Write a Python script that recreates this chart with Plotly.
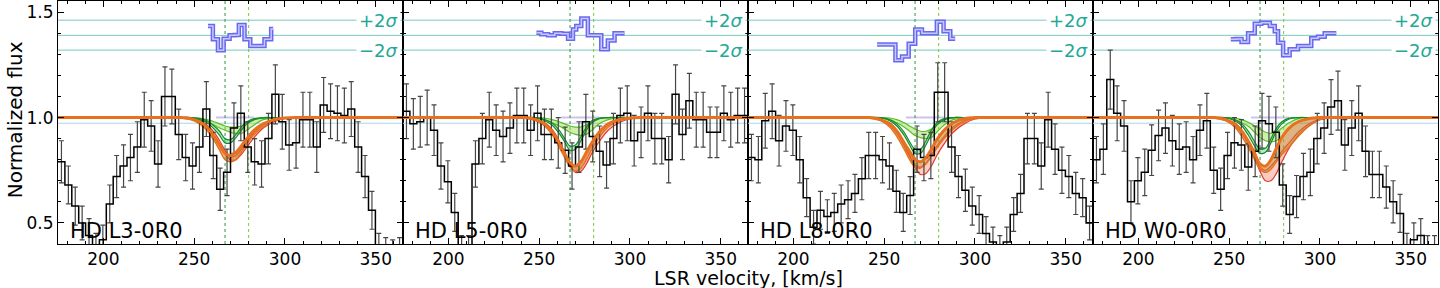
import plotly.graph_objects as go
from plotly.subplots import make_subplots

# ---------------- data ----------------
PANEL_LABELS = ["HD L3-0R0", "HD L5-0R0", "HD L8-0R0", "HD W0-0R0"]

VEL_EDGES = [175.0, 178.8, 182.6, 186.4, 190.2, 194.0, 197.8, 201.6, 205.4, 209.2,
             213.0, 216.8, 220.6, 224.4, 228.2, 232.0, 235.8, 239.6, 243.4, 247.2,
             251.0, 254.8, 258.6, 262.4, 266.2, 270.0, 273.8, 277.6, 281.4, 285.2,
             289.0, 292.8, 296.6, 300.4, 304.2, 308.0, 311.8, 315.6, 319.4, 323.2,
             327.0, 330.8, 334.6, 338.4, 342.2, 346.0, 349.8, 353.6, 357.4, 361.2, 365.0]

FLUX_L3 = [0.79, 0.68, 0.58, 0.50, 0.44, 0.38, 0.42, 0.59, 0.72, 0.77, 0.81, 0.86, 0.99, 0.96, 0.78,
           1.10, 1.10, 0.92, 0.81, 0.77, 0.86, 1.04, 0.82, 0.66, 0.74, 0.95, 1.02, 0.86, 0.79, 0.78,
           0.90, 1.11, 0.98, 0.87, 0.88, 0.99, 0.99, 0.86, 1.06, 1.03, 1.02, 1.01, 1.04, 0.86, 0.72,
           0.56, 0.38, 0.36, 0.35, 0.36]
ERR_L3 = [0.10, 0.09, 0.09, 0.08, 0.08, 0.07, 0.07, 0.09, 0.10, 0.10, 0.11, 0.12, 0.13, 0.12, 0.11,
          0.14, 0.13, 0.12, 0.11, 0.11, 0.12, 0.13, 0.11, 0.10, 0.11, 0.12, 0.13, 0.12, 0.11, 0.11,
          0.12, 0.14, 0.13, 0.12, 0.12, 0.13, 0.13, 0.12, 0.13, 0.13, 0.13, 0.13, 0.13, 0.12, 0.10,
          0.09, 0.07, 0.07, 0.07, 0.07]

FLUX_L5 = [1.03, 0.97, 0.98, 1.00, 0.94, 0.77, 0.695, 0.55, 0.37, 0.37, 0.78, 0.90, 0.99, 0.94, 0.91,
           0.95, 1.01, 1.01, 0.94, 1.02, 0.92, 0.92, 0.88, 0.845, 0.77, 0.86, 0.98, 0.91, 0.84, 0.775,
           0.90, 1.01, 1.02, 0.89, 0.93, 1.02, 0.90, 0.90, 0.80, 1.11, 0.92, 1.08, 0.99, 0.99, 0.93,
           0.93, 1.02, 0.99, 1.01, 1.01]
ERR_L5 = [0.13, 0.12, 0.12, 0.13, 0.12, 0.11, 0.10, 0.09, 0.07, 0.07, 0.11, 0.12, 0.13, 0.12, 0.12,
          0.12, 0.13, 0.13, 0.12, 0.13, 0.12, 0.12, 0.12, 0.11, 0.11, 0.12, 0.13, 0.12, 0.12, 0.11,
          0.12, 0.13, 0.13, 0.12, 0.12, 0.13, 0.12, 0.12, 0.11, 0.14, 0.12, 0.13, 0.13, 0.13, 0.12,
          0.12, 0.13, 0.13, 0.13, 0.13]

FLUX_L8 = [0.81, 0.80, 0.985, 1.03, 0.89, 0.96, 0.94, 0.80, 0.62, 0.48, 0.56, 0.53, 0.55, 0.59, 0.61,
           0.64, 0.71, 0.82, 0.82, 0.80, 0.77, 0.65, 0.55, 0.63, 0.85, 0.81, 0.82, 1.12, 1.12, 0.86,
           0.72, 0.655, 0.58, 0.54, 0.45, 0.41, 0.37, 0.41, 0.54, 0.64, 0.90, 0.90, 0.77, 0.99, 0.85,
           0.75, 0.72, 0.64, 0.62, 0.50]
ERR_L8 = [0.11, 0.11, 0.13, 0.13, 0.12, 0.12, 0.12, 0.11, 0.09, 0.08, 0.09, 0.08, 0.09, 0.09, 0.09,
          0.09, 0.10, 0.11, 0.11, 0.11, 0.11, 0.10, 0.09, 0.09, 0.11, 0.11, 0.11, 0.14, 0.14, 0.12,
          0.10, 0.10, 0.09, 0.09, 0.08, 0.07, 0.07, 0.07, 0.08, 0.09, 0.12, 0.12, 0.11, 0.13, 0.12,
          0.11, 0.10, 0.10, 0.09, 0.08]

FLUX_W0 = [0.80, 0.85, 1.18, 1.02, 0.96, 0.60, 0.70, 0.74, 0.845, 0.915, 0.95, 0.89, 0.85, 0.86, 0.80,
           0.94, 0.985, 0.75, 0.66, 0.82, 0.88, 0.87, 0.765, 0.84, 0.985, 0.97, 0.93, 0.68, 0.54, 0.625,
           0.72, 0.74, 0.90, 0.95, 1.05, 1.08, 0.87, 0.95, 1.02, 0.84, 0.73, 0.73, 0.67, 0.60, 0.545,
           0.38, 0.42, 0.44, 0.37, 0.37]
ERR_W0 = [0.11, 0.12, 0.14, 0.13, 0.12, 0.10, 0.11, 0.11, 0.12, 0.12, 0.12, 0.12, 0.12, 0.12, 0.11,
          0.12, 0.13, 0.11, 0.10, 0.11, 0.12, 0.12, 0.11, 0.12, 0.13, 0.13, 0.12, 0.10, 0.09, 0.10,
          0.11, 0.11, 0.12, 0.12, 0.13, 0.14, 0.12, 0.13, 0.13, 0.12, 0.11, 0.11, 0.10, 0.10, 0.09,
          0.07, 0.08, 0.08, 0.07, 0.07]

# residuals (bin edges and values)
RES_EDGES_L3 = [257.6, 260.3, 263.1, 266.2, 269.5, 272.3, 274.6, 277.7, 280.9, 284.8, 288.7, 292.4, 293.5]
RES_L3 = [1.434, 1.371, 1.319, 1.374, 1.39, 1.392, 1.439, 1.371, 1.34, 1.34, 1.371, 1.42]
RES_EDGES_L5 = [248.5, 251.2, 254.9, 258.6, 262.2, 265.9, 268.6, 270.4, 273.2, 276.8, 280.5, 284.2, 287.8, 291.5, 297.0]
RES_L5 = [1.402, 1.395, 1.39, 1.40, 1.398, 1.374, 1.418, 1.434, 1.47, 1.39, 1.39, 1.324, 1.366, 1.40]
RES_EDGES_L8 = [246.1, 252.0, 256.2, 259.8, 263.5, 267.1, 270.8, 275.4, 279.0, 282.7, 286.4, 289.1]
RES_L8 = [1.347, 1.347, 1.272, 1.29, 1.35, 1.418, 1.40, 1.40, 1.454, 1.41, 1.374]
RES_EDGES_W0 = [250.9, 254.0, 256.8, 260.4, 264.1, 267.7, 272.4, 275.1, 276.9, 279.7, 283.3, 287.9,
                291.6, 295.2, 298.9, 302.6, 309.0]
RES_W0 = [1.371, 1.373, 1.358, 1.40, 1.445, 1.45, 1.434, 1.41, 1.355, 1.296, 1.324, 1.34, 1.34,
          1.376, 1.383, 1.40]

SIGMA_PLUS = 1.462
SIGMA_ZERO = 1.39
SIGMA_MINUS = 1.32
COMPONENT_V = [267.0, 280.0]

# model curves sampled on a velocity grid
MODEL_V = [235, 242, 248, 253, 257, 261, 264, 267, 270, 273, 276, 279, 283, 288, 294, 300, 308]

TOT_HI_L3 = [1.0, 1.0, 0.995, 0.98, 0.955, 0.91, 0.87, 0.83, 0.82, 0.835, 0.865, 0.90, 0.94, 0.97, 0.99, 0.998, 1.0]
TOT_LO_L3 = [1.0, 0.998, 0.99, 0.97, 0.94, 0.89, 0.845, 0.80, 0.79, 0.80, 0.835, 0.875, 0.92, 0.955, 0.985, 0.997, 1.0]
RED_HI_L3 = [1.0, 1.0, 0.995, 0.985, 0.965, 0.93, 0.89, 0.845, 0.815, 0.82, 0.85, 0.885, 0.93, 0.965, 0.99, 0.998, 1.0]
RED_LO_L3 = [1.0, 1.0, 0.993, 0.98, 0.955, 0.915, 0.87, 0.825, 0.80, 0.80, 0.825, 0.86, 0.905, 0.95, 0.98, 0.996, 1.0]
GA_HI_L3 = [1.0, 1.0, 1.0, 0.995, 0.985, 0.96, 0.935, 0.90, 0.895, 0.92, 0.955, 0.98, 0.995, 1.0, 1.0, 1.0, 1.0]
GA_LO_L3 = [1.0, 1.0, 1.0, 0.99, 0.975, 0.945, 0.915, 0.88, 0.88, 0.905, 0.94, 0.97, 0.99, 0.998, 1.0, 1.0, 1.0]
GB_HI_L3 = [1.0, 1.0, 1.0, 0.998, 0.99, 0.98, 0.97, 0.96, 0.955, 0.955, 0.96, 0.975, 0.99, 0.998, 1.0, 1.0, 1.0]
GB_LO_L3 = [1.0, 1.0, 0.998, 0.99, 0.98, 0.965, 0.95, 0.94, 0.93, 0.925, 0.925, 0.94, 0.965, 0.99, 0.998, 1.0, 1.0]

TOT_HI_L5 = [1.0, 1.0, 0.99, 0.97, 0.935, 0.88, 0.83, 0.785, 0.77, 0.79, 0.835, 0.88, 0.93, 0.97, 0.99, 0.998, 1.0]
TOT_LO_L5 = [1.0, 0.998, 0.985, 0.96, 0.92, 0.86, 0.81, 0.765, 0.745, 0.76, 0.80, 0.85, 0.905, 0.955, 0.985, 0.997, 1.0]
RED_HI_L5 = [1.0, 1.0, 0.99, 0.97, 0.935, 0.88, 0.83, 0.785, 0.77, 0.79, 0.835, 0.88, 0.93, 0.97, 0.99, 0.998, 1.0]
RED_LO_L5 = [1.0, 1.0, 0.99, 0.975, 0.945, 0.89, 0.835, 0.775, 0.74, 0.745, 0.78, 0.83, 0.885, 0.94, 0.975, 0.995, 1.0]
GA_HI_L5 = [1.0, 1.0, 1.0, 0.99, 0.975, 0.94, 0.90, 0.865, 0.87, 0.91, 0.955, 0.985, 0.998, 1.0, 1.0, 1.0, 1.0]
GA_LO_L5 = [1.0, 1.0, 0.998, 0.985, 0.965, 0.925, 0.885, 0.845, 0.85, 0.89, 0.94, 0.975, 0.995, 1.0, 1.0, 1.0, 1.0]
GB_HI_L5 = [1.0, 1.0, 1.0, 0.998, 0.99, 0.98, 0.97, 0.96, 0.955, 0.955, 0.965, 0.98, 0.995, 1.0, 1.0, 1.0, 1.0]
GB_LO_L5 = [1.0, 1.0, 0.998, 0.99, 0.975, 0.96, 0.945, 0.93, 0.92, 0.915, 0.92, 0.94, 0.97, 0.99, 1.0, 1.0, 1.0]

TOT_HI_L8 = [1.0, 1.0, 0.99, 0.97, 0.935, 0.88, 0.84, 0.80, 0.79, 0.81, 0.85, 0.895, 0.94, 0.975, 0.995, 1.0, 1.0]
TOT_LO_L8 = [1.0, 0.998, 0.985, 0.955, 0.91, 0.85, 0.80, 0.765, 0.76, 0.78, 0.815, 0.855, 0.90, 0.945, 0.98, 0.995, 1.0]
RED_HI_L8 = [1.0, 1.0, 0.99, 0.965, 0.925, 0.865, 0.815, 0.775, 0.765, 0.785, 0.82, 0.865, 0.91, 0.955, 0.985, 0.997, 1.0]
RED_LO_L8 = [1.0, 1.0, 0.99, 0.975, 0.94, 0.88, 0.82, 0.765, 0.73, 0.735, 0.77, 0.82, 0.875, 0.93, 0.97, 0.993, 1.0]
GA_HI_L8 = [1.0, 1.0, 1.0, 0.99, 0.97, 0.93, 0.885, 0.85, 0.85, 0.89, 0.94, 0.975, 0.995, 1.0, 1.0, 1.0, 1.0]
GA_LO_L8 = [1.0, 1.0, 0.998, 0.985, 0.96, 0.915, 0.87, 0.83, 0.83, 0.87, 0.92, 0.965, 0.99, 1.0, 1.0, 1.0, 1.0]
GB_HI_L8 = [1.0, 1.0, 1.0, 0.998, 0.99, 0.975, 0.96, 0.945, 0.935, 0.935, 0.945, 0.965, 0.99, 0.998, 1.0, 1.0, 1.0]
GB_LO_L8 = [1.0, 1.0, 0.998, 0.99, 0.975, 0.955, 0.935, 0.915, 0.905, 0.90, 0.905, 0.93, 0.965, 0.99, 1.0, 1.0, 1.0]

TOT_HI_W0 = [1.0, 1.0, 0.99, 0.97, 0.935, 0.88, 0.83, 0.78, 0.77, 0.80, 0.855, 0.905, 0.95, 0.98, 0.995, 1.0, 1.0]
TOT_LO_W0 = [1.0, 0.998, 0.985, 0.955, 0.91, 0.85, 0.80, 0.755, 0.74, 0.755, 0.79, 0.825, 0.86, 0.91, 0.96, 0.99, 1.0]
RED_HI_W0 = [1.0, 1.0, 0.99, 0.965, 0.925, 0.865, 0.81, 0.765, 0.75, 0.77, 0.80, 0.84, 0.88, 0.93, 0.97, 0.993, 1.0]
RED_LO_W0 = [1.0, 1.0, 0.99, 0.975, 0.94, 0.875, 0.81, 0.745, 0.70, 0.70, 0.735, 0.79, 0.855, 0.915, 0.96, 0.99, 1.0]
GA_HI_W0 = [1.0, 1.0, 1.0, 0.99, 0.97, 0.93, 0.885, 0.85, 0.855, 0.90, 0.95, 0.98, 0.997, 1.0, 1.0, 1.0, 1.0]
GA_LO_W0 = [1.0, 1.0, 0.998, 0.985, 0.96, 0.91, 0.865, 0.83, 0.835, 0.88, 0.935, 0.97, 0.993, 1.0, 1.0, 1.0, 1.0]
GB_HI_W0 = [1.0, 1.0, 1.0, 0.998, 0.99, 0.975, 0.96, 0.945, 0.93, 0.925, 0.93, 0.95, 0.975, 0.995, 1.0, 1.0, 1.0]
GB_LO_W0 = [1.0, 1.0, 0.998, 0.99, 0.975, 0.955, 0.93, 0.905, 0.89, 0.885, 0.89, 0.91, 0.945, 0.98, 0.997, 1.0, 1.0]

CONTINUUM = 1.0
CONT_SHIFTED = 0.973
X_MIN, X_MAX = 175, 365
Y_MIN, Y_MAX = 0.40, 1.553

panels = [
    dict(label=PANEL_LABELS[0], flux=FLUX_L3, err=ERR_L3, res_x=RES_EDGES_L3, res=RES_L3,
         tot=(TOT_HI_L3, TOT_LO_L3), red=(RED_HI_L3, RED_LO_L3), ga=(GA_HI_L3, GA_LO_L3), gb=(GB_HI_L3, GB_LO_L3)),
    dict(label=PANEL_LABELS[1], flux=FLUX_L5, err=ERR_L5, res_x=RES_EDGES_L5, res=RES_L5,
         tot=(TOT_HI_L5, TOT_LO_L5), red=(RED_HI_L5, RED_LO_L5), ga=(GA_HI_L5, GA_LO_L5), gb=(GB_HI_L5, GB_LO_L5)),
    dict(label=PANEL_LABELS[2], flux=FLUX_L8, err=ERR_L8, res_x=RES_EDGES_L8, res=RES_L8,
         tot=(TOT_HI_L8, TOT_LO_L8), red=(RED_HI_L8, RED_LO_L8), ga=(GA_HI_L8, GA_LO_L8), gb=(GB_HI_L8, GB_LO_L8)),
    dict(label=PANEL_LABELS[3], flux=FLUX_W0, err=ERR_W0, res_x=RES_EDGES_W0, res=RES_W0,
         tot=(TOT_HI_W0, TOT_LO_W0), red=(RED_HI_W0, RED_LO_W0), ga=(GA_HI_W0, GA_LO_W0), gb=(GB_HI_W0, GB_LO_W0)),
]

# ---------------- styles ----------------
FONT = "DejaVu Sans"
TEAL_TEXT = "rgb(36,168,150)"
TEAL_LINE = "rgb(120,200,190)"
ORANGE = "rgb(232,112,30)"
BLUE = "rgb(105,105,240)"

fig = make_subplots(rows=1, cols=4, shared_yaxes=True, horizontal_spacing=0)

centers = [(VEL_EDGES[i] + VEL_EDGES[i + 1]) / 2 for i in range(len(VEL_EDGES) - 1)]


def line(col, x, y, color, width=1, dash=None, shape="linear"):
    fig.add_trace(go.Scatter(x=x, y=y, mode="lines", line=dict(color=color, width=width, dash=dash, shape=shape),
                             hoverinfo="skip", showlegend=False), row=1, col=col)


def band(col, hi, lo, fill, edge, ew=1.2):
    fig.add_trace(go.Scatter(x=MODEL_V + MODEL_V[::-1], y=list(hi) + list(lo)[::-1], mode="lines",
                             fill="toself", fillcolor=fill, line=dict(width=0, shape="spline", smoothing=0.7),
                             hoverinfo="skip", showlegend=False), row=1, col=col)
    line(col, MODEL_V, hi, edge, ew, shape="spline")
    line(col, MODEL_V, lo, edge, ew, shape="spline")


for k, p in enumerate(panels):
    c = k + 1
    # residual sigma lines
    for lvl in (SIGMA_PLUS, SIGMA_ZERO, SIGMA_MINUS):
        line(c, [X_MIN, X_MAX], [lvl, lvl], TEAL_LINE, 1)
    # shifted continuum + lavender continuum segment
    line(c, [X_MIN, X_MAX], [CONT_SHIFTED, CONT_SHIFTED], "rgb(170,210,240)", 1)
    line(c, [262, 283], [CONTINUUM, CONTINUUM], "rgb(205,195,240)", 2)
    # component velocities
    line(c, [COMPONENT_V[0]] * 2, [Y_MIN, Y_MAX], "rgb(50,150,60)", 1, "dot")
    line(c, [COMPONENT_V[1]] * 2, [Y_MIN, Y_MAX], "rgb(120,200,60)", 1, "dot")
    # model bands
    band(c, p["red"][0], p["red"][1], "rgba(250,140,120,0.45)", "rgb(225,60,40)")
    band(c, p["tot"][0], p["tot"][1], "rgba(200,130,50,0.6)", ORANGE, 1.4)
    band(c, p["gb"][0], p["gb"][1], "rgba(150,220,70,0.45)", "rgb(90,190,40)")
    band(c, p["ga"][0], p["ga"][1], "rgba(60,200,110,0.40)", "rgb(20,140,40)")
    # data
    fig.add_trace(go.Scatter(x=centers, y=p["flux"], mode="markers",
                             marker=dict(size=1, color="rgba(0,0,0,0)"),
                             error_y=dict(type="data", array=p["err"], color="rgb(70,70,70)", thickness=1.2, width=2.5),
                             hoverinfo="skip", showlegend=False), row=1, col=c)
    line(c, VEL_EDGES, p["flux"] + [p["flux"][-1]], "black", 1.5, shape="hv")
    # total model thick line
    line(c, [X_MIN] + MODEL_V + [X_MAX], [CONTINUUM] + p["tot"][0] + [CONTINUUM], ORANGE, 3, shape="spline")
    # residuals
    rx = p["res_x"]
    ry = p["res"] + [p["res"][-1]]
    line(c, rx, ry, BLUE, 4.5, shape="hv")
    line(c, rx, ry, "rgb(200,200,255)", 1.5, shape="hv")
    # annotations
    dom = "x domain" if c == 1 else f"x{c} domain"
    yref = "y" if c == 1 else f"y{c}"
    fig.add_annotation(xref=dom, yref="y domain" if c == 1 else f"y{c} domain", x=0.03, y=0.0,
                       xanchor="left", yanchor="bottom", text=p["label"], showarrow=False, yshift=-1,
                       font=dict(family=FONT, size=21, color="black"))
    for txt, lvl in (("+2<i>σ</i>", SIGMA_PLUS), ("−2<i>σ</i>", SIGMA_MINUS)):
        fig.add_annotation(xref=dom, yref=yref, x=1.0, y=lvl, xanchor="right", yanchor="middle",
                           xshift=-2, text=txt, showarrow=False, bgcolor="white", borderpad=2,
                           font=dict(family=FONT, size=18, color=TEAL_TEXT))

axis_common = dict(showline=True, linecolor="black", linewidth=1, mirror="ticks", ticks="inside",
                   tickcolor="black", ticklen=6, showgrid=False, zeroline=False, automargin=False,
                   tickfont=dict(family=FONT, size=17, color="black"))
for c in range(1, 5):
    fig.update_xaxes(range=[X_MIN, X_MAX], tickvals=[200, 250, 300, 350],
                     minor=dict(ticks="inside", dtick=10, tick0=0, ticklen=3, tickcolor="black"),
                     **axis_common, row=1, col=c)
    fig.update_yaxes(range=[Y_MIN, Y_MAX], tickvals=[0.5, 1.0, 1.5], ticktext=["0.5", "1.0", "1.5"],
                     minor=dict(ticks="inside", dtick=0.1, tick0=0, ticklen=3, tickcolor="black"),
                     showticklabels=(c == 1), **axis_common, row=1, col=c)

fig.add_annotation(xref="paper", yref="paper", x=0.5, y=-0.138, text="LSR velocity, [km/s]",
                   showarrow=False, xanchor="center", yanchor="middle",
                   font=dict(family=FONT, size=19, color="black"))
fig.add_annotation(xref="paper", yref="paper", x=-0.031, y=0.51, text="Normalized flux", textangle=-90,
                   showarrow=False, xanchor="center", yanchor="middle",
                   font=dict(family=FONT, size=20, color="black"))

fig.update_layout(width=1440, height=288, margin=dict(l=58, r=2, t=1, b=44),
                  paper_bgcolor="white", plot_bgcolor="white", showlegend=False,
                  font=dict(family=FONT, size=17, color="black"))

fig.write_html("out.html", config={"displayModeBar": False},
               post_script="document.body.style.margin='0';document.body.style.overflow='hidden';")
